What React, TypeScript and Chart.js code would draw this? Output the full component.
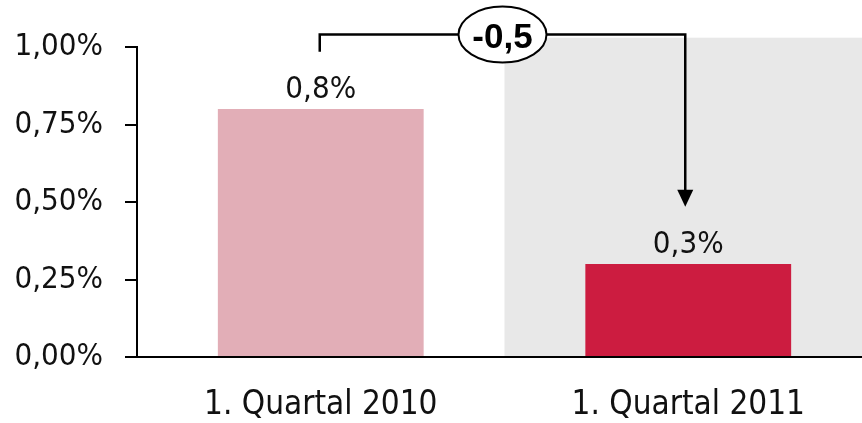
import React, { useEffect, useRef } from "react";
import { Chart, registerables } from "chart.js";

Chart.register(...registerables);

const categories = ["1. Quartal 2010", "1. Quartal 2011"];
const values = [0.8, 0.3];
const valueLabels = ["0,8%", "0,3%"];
const barColors = ["#E2AEB7", "#CC1C40"];
const yTickValues = [0, 0.25, 0.5, 0.75, 1.0];
const changeLabel = "-0,5";
const bandTopValue = 1.03;
const bracketValue = 1.04;
const arrowTipValue = 0.485;

const fmtTick = (v: number) => v.toFixed(2).replace(".", ",") + "%";

const bandPlugin = {
  id: "band",
  beforeDraw(chart: any) {
    const { ctx, scales } = chart;
    const x = scales.x;
    const y = scales.y;
    const left = x.getPixelForValue(0.5);
    const top = y.getPixelForValue(bandTopValue);
    ctx.save();
    ctx.fillStyle = "#E8E8E8";
    ctx.fillRect(left, top, chart.width - left, y.bottom - 1 - top);
    ctx.restore();
  },
};

const annotPlugin = {
  id: "annot",
  afterDatasetsDraw(chart: any) {
    const { ctx, scales } = chart;
    const x = scales.x;
    const y = scales.y;
    ctx.save();
    // value labels
    ctx.fillStyle = "#111";
    ctx.font = "31px 'DejaVu Sans Condensed'";
    ctx.textAlign = "center";
    ctx.textBaseline = "alphabetic";
    values.forEach((v, i) => {
      ctx.fillText(valueLabels[i], x.getPixelForValue(i), y.getPixelForValue(v) - 11);
    });
    // bracket
    const x1 = x.getPixelForValue(0) - 1;
    const x2 = x.getPixelForValue(1) - 3;
    const yb = y.getPixelForValue(bracketValue);
    const yStart = y.getPixelForValue(0.985);
    const yTip = y.getPixelForValue(arrowTipValue);
    ctx.strokeStyle = "#000";
    ctx.lineWidth = 2.5;
    ctx.beginPath();
    ctx.moveTo(x1, yStart);
    ctx.lineTo(x1, yb);
    ctx.lineTo(x2, yb);
    ctx.lineTo(x2, yTip - 15);
    ctx.stroke();
    ctx.fillStyle = "#000";
    ctx.beginPath();
    ctx.moveTo(x2 - 8, yTip - 17);
    ctx.lineTo(x2 + 8, yTip - 17);
    ctx.lineTo(x2, yTip);
    ctx.closePath();
    ctx.fill();
    // ellipse
    const mid = x.getPixelForValue(0.5) - 2;
    ctx.beginPath();
    ctx.ellipse(mid, yb, 44, 28, 0, 0, Math.PI * 2);
    ctx.fillStyle = "#fff";
    ctx.fill();
    ctx.lineWidth = 2;
    ctx.stroke();
    ctx.fillStyle = "#000";
    ctx.font = "bold 35px 'Liberation Sans'";
    ctx.textBaseline = "alphabetic";
    ctx.fillText(changeLabel, mid, yb + 13);
    ctx.restore();
  },
};

export default function App() {
  const ref = useRef<HTMLCanvasElement | null>(null);
  useEffect(() => {
    if (!ref.current) return;
    const chart = new Chart(ref.current, {
      type: "bar",
      data: {
        labels: categories,
        datasets: [
          {
            data: values,
            backgroundColor: barColors,
            categoryPercentage: 1,
            barPercentage: 0.56,
          },
        ],
      },
      options: {
        responsive: false,
        animation: false,
        layout: { padding: { top: 47, left: 0, right: 0, bottom: 0 } },
        plugins: {
          legend: { display: false },
          tooltip: { enabled: false },
          title: { display: false },
        },
        scales: {
          x: {
            afterFit: (s: any) => {
              s.height = 66;
            },
            grid: { display: false, drawTicks: false },
            border: { display: true, color: "#000", width: 2 },
            ticks: {
              color: "#111",
              font: { family: "'DejaVu Sans Condensed'", size: 33 },
              padding: 29,
            },
          },
          y: {
            min: 0,
            max: 1,
            afterFit: (s: any) => {
              s.width = 137;
            },
            afterBuildTicks: (s: any) => {
              s.ticks = yTickValues.map((v) => ({ value: v }));
            },
            grid: {
              drawOnChartArea: false,
              drawTicks: true,
              tickLength: 12,
              color: "#000",
              lineWidth: 2,
            },
            border: { display: true, color: "#000", width: 2 },
            ticks: {
              color: "#111",
              font: { family: "'DejaVu Sans Condensed'", size: 31 },
              padding: 22,
              callback: (v: any) => fmtTick(Number(v)),
            },
          },
        },
      },
      plugins: [bandPlugin, annotPlugin],
    });
    return () => chart.destroy();
  }, []);
  return (
    <div
      style={{
        position: "absolute",
        left: 0,
        top: 0,
        width: 862,
        height: 423,
        overflow: "hidden",
        background: "#fff",
      }}
    >
      <canvas ref={ref} width={872} height={423} style={{ display: "block" }} />
    </div>
  );
}
